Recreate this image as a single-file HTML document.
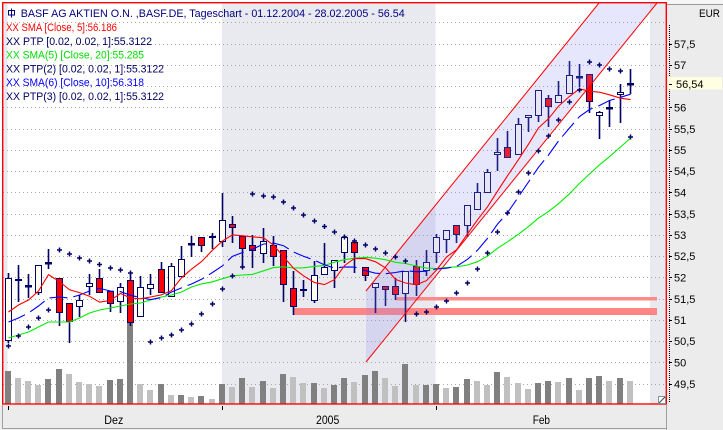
<!DOCTYPE html>
<html><head><meta charset="utf-8"><style>
html,body{margin:0;padding:0;background:#fff;width:723px;height:430px;overflow:hidden}
svg{display:block}
</style></head><body>
<svg width="723" height="430" viewBox="0 0 723 430" xmlns="http://www.w3.org/2000/svg" font-family="'Liberation Sans', Arial, sans-serif">
<defs><clipPath id="pc"><rect x="3" y="3" width="663" height="401"/></clipPath></defs>
<rect width="723" height="430" fill="#fff"/>
<!-- right panel -->
<rect x="667" y="0" width="56" height="430" fill="#ececec"/>
<rect x="667" y="0" width="56" height="4" fill="#f6f6f6"/>
<line x1="667" y1="4.5" x2="723" y2="4.5" stroke="#9a9a9a"/>
<text x="699" y="17" font-size="11" fill="#000" textLength="21" lengthAdjust="spacingAndGlyphs">EUR</text>
<!-- bottom panel -->
<rect x="0" y="405" width="667" height="25" fill="#ececec"/>
<line x1="2.5" y1="405" x2="2.5" y2="428" stroke="#a0a0a0"/>
<line x1="2" y1="428.5" x2="666" y2="428.5" stroke="#a0a0a0"/>
<line x1="666.5" y1="405" x2="666.5" y2="430" stroke="#a0a0a0"/>
<path d="M8.5 406v4M222.5 406v4M436.5 406v4" stroke="#000" stroke-width="1"/>
<text x="104.3" y="424" font-size="11.5" fill="#000" textLength="19" lengthAdjust="spacingAndGlyphs">Dez</text>
<text x="316" y="424" font-size="11.5" fill="#000" textLength="23.3" lengthAdjust="spacingAndGlyphs">2005</text>
<text x="532.7" y="424" font-size="11.5" fill="#000" textLength="17.3" lengthAdjust="spacingAndGlyphs">Feb</text>

<!-- plot background -->
<rect x="3" y="3" width="663" height="401" fill="#fff"/>
<rect x="3" y="3" width="4.5" height="401" fill="#e9e9f0"/>
<rect x="222" y="3" width="213.5" height="401" fill="#e9e9f0"/>
<rect x="650" y="3" width="16" height="401" fill="#e9e9f0"/>
<path d="M3 22.5H666M3 44.5H666M3 65.5H666M3 86.5H666M3 107.5H666M3 129.5H666M3 150.5H666M3 171.5H666M3 192.5H666M3 214.5H666M3 235.5H666M3 256.5H666M3 277.5H666M3 299.5H666M3 320.5H666M3 341.5H666M3 362.5H666M3 384.5H666" stroke="#a8a8a8" stroke-width="1" stroke-dasharray="1 3"/>

<!-- volume -->
<g fill="#808080">
<rect x="5" y="371" width="6" height="33"/><rect x="45" y="379" width="6" height="25"/><rect x="56" y="369" width="6" height="35"/><rect x="107" y="380" width="6" height="24"/><rect x="117" y="379" width="6" height="25"/><rect x="127" y="323" width="6" height="81"/><rect x="158" y="384" width="6" height="20"/><rect x="178" y="395" width="6" height="9"/><rect x="198" y="396" width="6" height="8"/><rect x="219" y="384" width="6" height="20"/><rect x="239" y="378" width="6" height="26"/><rect x="260" y="381" width="6" height="23"/><rect x="280" y="374" width="6" height="30"/><rect x="311" y="383" width="6" height="21"/><rect x="331" y="385" width="6" height="19"/><rect x="341" y="378" width="6" height="26"/><rect x="362" y="375" width="6" height="29"/><rect x="372" y="371" width="6" height="33"/><rect x="402" y="364" width="6" height="40"/><rect x="423" y="385" width="6" height="19"/><rect x="433" y="384" width="6" height="20"/><rect x="453" y="387" width="6" height="17"/><rect x="464" y="379" width="6" height="25"/><rect x="494" y="372" width="6" height="32"/><rect x="535" y="383" width="6" height="21"/><rect x="545" y="381" width="6" height="23"/><rect x="566" y="378" width="6" height="26"/><rect x="586" y="378" width="6" height="26"/><rect x="596" y="376" width="6" height="28"/><rect x="617" y="378" width="6" height="26"/>
</g>
<g fill="#c0c0c0">
<rect x="15" y="378" width="6" height="26"/><rect x="25" y="381" width="6" height="23"/><rect x="35" y="385" width="6" height="19"/><rect x="66" y="374" width="6" height="30"/><rect x="76" y="382" width="6" height="22"/><rect x="86" y="384" width="6" height="20"/><rect x="96" y="386" width="6" height="18"/><rect x="137" y="384" width="6" height="20"/><rect x="147" y="390" width="6" height="14"/><rect x="168" y="395" width="6" height="9"/><rect x="188" y="397" width="6" height="7"/><rect x="209" y="399" width="6" height="5"/><rect x="229" y="387" width="6" height="17"/><rect x="249" y="387" width="6" height="17"/><rect x="270" y="388" width="6" height="16"/><rect x="290" y="377" width="6" height="27"/><rect x="300" y="383" width="6" height="21"/><rect x="321" y="388" width="6" height="16"/><rect x="351" y="382" width="6" height="22"/><rect x="382" y="378" width="6" height="26"/><rect x="392" y="386" width="6" height="18"/><rect x="413" y="385" width="6" height="19"/><rect x="443" y="388" width="6" height="16"/><rect x="474" y="381" width="6" height="23"/><rect x="484" y="385" width="6" height="19"/><rect x="504" y="377" width="6" height="27"/><rect x="515" y="383" width="6" height="21"/><rect x="525" y="389" width="6" height="15"/><rect x="555" y="382" width="6" height="22"/><rect x="576" y="390" width="6" height="14"/><rect x="606" y="381" width="6" height="23"/><rect x="627" y="381" width="6" height="23"/>
</g>

<!-- support bands -->
<rect x="293" y="308" width="364" height="7" fill="#ff8484"/>
<rect x="396" y="297" width="261" height="3.5" fill="#ff8a8a"/>

<!-- wicks -->
<path stroke="#000066" stroke-width="1.6" fill="none" d="M8.5 273V343M18.5 265V302M28.5 274V298M38.5 265V295M48.5 249V269M59.5 278V326M69.5 303V343M79.5 295V317M89.5 274V295M99.5 269V293M110.5 291V312M120.5 283V313M130.5 273V326M140.5 276V317M150.5 274V295M161.5 262V293M171.5 263V297M181.5 246V277M191.5 236V257M201.5 237V252M212.5 233V249M222.5 193V247M232.5 216V243M242.5 236V268M252.5 235V268M263.5 228V263M273.5 236V266M283.5 250V302M293.5 271V315M303.5 280V297M314.5 261V303M324.5 243V275M334.5 260V288M344.5 236V263M354.5 240V273M365.5 267V281M375.5 283V313M385.5 286V306M395.5 278V300M405.5 271V322M416.5 260V296M426.5 250V276M436.5 234V263M446.5 230V253M456.5 225V243M467.5 205V237M477.5 183V210M487.5 169V193M497.5 138V171M507.5 131V158M518.5 118V155M528.5 115V132M538.5 90V122M548.5 95V127M558.5 81V103M569.5 61V94M579.5 64V87M589.5 74V113M599.5 111V139M609.5 100V127M620.5 84V123M630.5 69V94"/>

<!-- up bodies -->
<g fill="#fffff0" stroke="#000066" stroke-width="1">
<rect x="5.5" y="278.5" width="6" height="62"/><rect x="35.5" y="265.5" width="6" height="27"/><rect x="76.5" y="300.5" width="6" height="6"/><rect x="86.5" y="283.5" width="6" height="3"/><rect x="117.5" y="287.5" width="6" height="14"/><rect x="137.5" y="287.5" width="6" height="29"/><rect x="147.5" y="284.5" width="6" height="4"/><rect x="168.5" y="266.5" width="6" height="30"/><rect x="178.5" y="259.5" width="6" height="17"/><rect x="209.5" y="236.5" width="6" height="1"/><rect x="219.5" y="220.5" width="6" height="21"/><rect x="260.5" y="241.5" width="6" height="12"/><rect x="300.5" y="289.5" width="6" height="1"/><rect x="311.5" y="275.5" width="6" height="25"/><rect x="321.5" y="267.5" width="6" height="7"/><rect x="331.5" y="260.5" width="6" height="10"/><rect x="341.5" y="237.5" width="6" height="15"/><rect x="372.5" y="283.5" width="6" height="4"/><rect x="402.5" y="271.5" width="6" height="22"/><rect x="423.5" y="262.5" width="6" height="8"/><rect x="433.5" y="237.5" width="6" height="15"/><rect x="443.5" y="230.5" width="6" height="9"/><rect x="464.5" y="205.5" width="6" height="20"/><rect x="474.5" y="192.5" width="6" height="17"/><rect x="484.5" y="172.5" width="6" height="20"/><rect x="494.5" y="152.5" width="6" height="2"/><rect x="515.5" y="124.5" width="6" height="30"/><rect x="525.5" y="115.5" width="6" height="2"/><rect x="535.5" y="90.5" width="6" height="25"/><rect x="555.5" y="95.5" width="6" height="7"/><rect x="566.5" y="75.5" width="6" height="18"/><rect x="596.5" y="112.5" width="6" height="3"/><rect x="617.5" y="92.5" width="6" height="2"/>
</g>
<!-- down bodies -->
<g fill="#ff0000" stroke="#000066" stroke-width="1">
<rect x="15.5" y="279.5" width="6" height="1"/><rect x="56.5" y="278.5" width="6" height="34"/><rect x="66.5" y="303.5" width="6" height="18"/><rect x="96.5" y="278.5" width="6" height="14"/><rect x="107.5" y="291.5" width="6" height="12"/><rect x="127.5" y="280.5" width="6" height="42"/><rect x="158.5" y="269.5" width="6" height="23"/><rect x="198.5" y="237.5" width="6" height="8"/><rect x="229.5" y="224.5" width="6" height="3"/><rect x="239.5" y="236.5" width="6" height="12"/><rect x="249.5" y="245.5" width="6" height="5"/><rect x="270.5" y="245.5" width="6" height="11"/><rect x="280.5" y="250.5" width="6" height="34"/><rect x="290.5" y="288.5" width="6" height="18"/><rect x="351.5" y="242.5" width="6" height="10"/><rect x="362.5" y="267.5" width="6" height="8"/><rect x="382.5" y="286.5" width="6" height="3"/><rect x="392.5" y="286.5" width="6" height="8"/><rect x="413.5" y="266.5" width="6" height="18"/><rect x="453.5" y="225.5" width="6" height="9"/><rect x="504.5" y="147.5" width="6" height="10"/><rect x="545.5" y="98.5" width="6" height="8"/><rect x="586.5" y="74.5" width="6" height="27"/>
</g>
<!-- doji -->
<g fill="#000066">
<rect x="25" y="285" width="7" height="2.5"/><rect x="45" y="262" width="7" height="2.5"/><rect x="188" y="243" width="7" height="2.5"/><rect x="576" y="76" width="7" height="2.5"/><rect x="606" y="107" width="7" height="2.5"/><rect x="627" y="83" width="7" height="2.5"/>
</g>

<g clip-path="url(#pc)">
<!-- channel -->
<polygon points="366,291 599,3 657,3 366,362" fill="rgba(140,140,240,0.22)"/>
<path d="M366 291L599 3M366 362L657 3" stroke="#ff0000" stroke-width="1" fill="none"/>

<!-- SMA20 green -->
<polyline fill="none" stroke="#00ee00" stroke-width="1.1" points="8.5,338 18.5,335 28.5,332 38.5,327 48.5,322 59.5,322 69.5,322 79.5,318 89.5,313 99.5,310 110.5,308 120.5,306 130.5,304 140.5,303 150.5,300 161.5,297 171.5,295 181.5,292 191.5,287 201.5,283.9 212.5,281.8 222.5,278.7 232.5,275.8 242.5,275 252.5,274.4 263.5,270.8 273.5,267.6 283.5,266.8 293.5,268 303.5,267.8 314.5,266.4 324.5,265.4 334.5,262.2 344.5,259.7 354.5,258.2 365.5,257.3 375.5,258.2 385.5,259.7 395.5,262.3 405.5,263.5 416.5,266 426.5,268.1 436.5,268.5 446.5,267.6 456.5,266.8 467.5,265 477.5,261.7 487.5,256.1 497.5,248.3 507.5,241.8 518.5,234.2 528.5,226.6 538.5,218.1 548.5,211.6 558.5,203.7 569.5,193.7 579.5,183.4 589.5,174 599.5,164.8 609.5,156.7 620.5,147 630.5,138.1"/>
<!-- SMA10 blue -->
<polyline fill="none" stroke="#0000ff" stroke-width="1.1" stroke-dasharray="18 6" points="8.5,322 18.5,318 28.5,313 38.5,306 48.5,298 59.5,297 69.5,298 79.5,295 89.5,291 99.5,288.4 110.5,291 120.5,291.6 130.5,295.3 140.5,297.5 150.5,299.6 161.5,297.6 171.5,292 181.5,287.9 191.5,284 201.5,279.3 212.5,272.5 222.5,265.8 232.5,256.3 242.5,252.5 252.5,249.2 263.5,244 273.5,243.1 283.5,245.7 293.5,252 303.5,256.3 314.5,260.2 324.5,264.9 334.5,268.1 344.5,266.9 354.5,267.1 365.5,270.6 375.5,273.2 385.5,273.7 395.5,272.5 405.5,270.7 416.5,271.7 426.5,271.2 436.5,268.9 446.5,268.2 456.5,266.4 467.5,259.3 477.5,250.2 487.5,238.4 497.5,224.1 507.5,212.8 518.5,196.7 528.5,182 538.5,167.3 548.5,155 558.5,141 569.5,128 579.5,116.5 589.5,109.5 599.5,105.5 609.5,100.5 620.5,97.3 630.5,94.2"/>
<!-- SMA5 red -->
<polyline fill="none" stroke="#ff0000" stroke-width="1.1" points="8.5,312 18.5,305 28.5,300 38.5,291 48.5,274.6 59.5,281.6 69.5,289.8 79.5,292.6 89.5,296.2 99.5,302.2 110.5,300.4 120.5,293.4 130.5,298 140.5,298.8 150.5,297 161.5,294.8 171.5,290.6 181.5,277.8 191.5,269.2 201.5,261.6 212.5,250.2 222.5,241 232.5,234.8 242.5,235.8 252.5,236.8 263.5,237.8 273.5,245.2 283.5,256.6 293.5,268.2 303.5,275.8 314.5,282.6 324.5,284.6 334.5,279.6 344.5,265.6 354.5,258.4 365.5,258.6 375.5,261.8 385.5,267.8 395.5,279.4 405.5,283 416.5,284.8 426.5,280.6 436.5,270 446.5,257 456.5,249.8 467.5,233.8 477.5,219.8 487.5,206.8 497.5,191.2 507.5,175.8 518.5,159.6 528.5,144.2 538.5,127.8 548.5,118.8 558.5,106.2 569.5,96.4 579.5,88.8 589.5,91.2 599.5,92.2 609.5,94.8 620.5,98.2 630.5,99.6"/>

<!-- parabolic SAR -->
<path stroke="#000066" stroke-width="1.5" fill="none" d="M6 346h5M8.5 343.5v5M16 336h5M18.5 333.5v5M26 327h5M28.5 324.5v5M36 318h5M38.5 315.5v5M46 310h5M48.5 307.5v5M57 250h5M59.5 247.5v5M67 254h5M69.5 251.5v5M77 258h5M79.5 255.5v5M87 261h5M89.5 258.5v5M97 264.5h5M99.5 262v5M108 268h5M110.5 265.5v5M118 270h5M120.5 267.5v5M128 273h5M130.5 270.5v5M148 342h5M150.5 339.5v5M159 338h5M161.5 335.5v5M169 335h5M171.5 332.5v5M179 330h5M181.5 327.5v5M189 324h5M191.5 321.5v5M199 314h5M201.5 311.5v5M210 304h5M212.5 301.5v5M220 289h5M222.5 286.5v5M230 276h5M232.5 273.5v5M240 267h5M242.5 264.5v5M250 194h5M252.5 191.5v5M261 196h5M263.5 193.5v5M271 197h5M273.5 194.5v5M281 202h5M283.5 199.5v5M291 208h5M293.5 205.5v5M301 215h5M303.5 212.5v5M312 221h5M314.5 218.5v5M322 226.5h5M324.5 224v5M332 232h5M334.5 229.5v5M342 237h5M344.5 234.5v5M352 241h5M354.5 238.5v5M363 245h5M365.5 242.5v5M373 249h5M375.5 246.5v5M383 253h5M385.5 250.5v5M393 257h5M395.5 254.5v5M403 261h5M405.5 258.5v5M414 314h5M416.5 311.5v5M424 312h5M426.5 309.5v5M434 307h5M436.5 304.5v5M444 301h5M446.5 298.5v5M454 293h5M456.5 290.5v5M465 283h5M467.5 280.5v5M475 269h5M477.5 266.5v5M485 253h5M487.5 250.5v5M495 232h5M497.5 229.5v5M505 213h5M507.5 210.5v5M516 192h5M518.5 189.5v5M526 173h5M528.5 170.5v5M536 151h5M538.5 148.5v5M546 136h5M548.5 133.5v5M556 120h5M558.5 117.5v5M567 102h5M569.5 99.5v5M577 90h5M579.5 87.5v5M587 62h5M589.5 59.5v5M597 65h5M599.5 62.5v5M607 69h5M609.5 66.5v5M618 71h5M620.5 68.5v5M628 137h5M630.5 134.5v5"/>
</g>

<!-- legend -->
<g fill="none" stroke="#000080" stroke-width="1">
<rect x="8.5" y="10.5" width="6" height="4.5"/>
<line x1="11.5" y1="8.5" x2="11.5" y2="17.5"/>
</g>
<text x="20.7" y="16.8" font-size="11" fill="#000080" textLength="384" lengthAdjust="spacingAndGlyphs">BASF AG AKTIEN O.N. ,BASF.DE, Tageschart - 01.12.2004 - 28.02.2005 - 56.54</text>
<text x="6" y="31" font-size="11" fill="#ff0000" textLength="111" lengthAdjust="spacingAndGlyphs">XX SMA [Close, 5]:56.186</text>
<text x="6" y="44.8" font-size="11" fill="#000060" textLength="146" lengthAdjust="spacingAndGlyphs">XX PTP [0.02, 0.02, 1]:55.3122</text>
<text x="6" y="58.6" font-size="11" fill="#00dd00" textLength="138" lengthAdjust="spacingAndGlyphs">XX SMA(5) [Close, 20]:55.285</text>
<text x="6" y="72.4" font-size="11" fill="#000060" textLength="158" lengthAdjust="spacingAndGlyphs">XX PTP(2) [0.02, 0.02, 1]:55.3122</text>
<text x="6" y="86.2" font-size="11" fill="#0000ff" textLength="138" lengthAdjust="spacingAndGlyphs">XX SMA(6) [Close, 10]:56.318</text>
<text x="6" y="100" font-size="11" fill="#000060" textLength="158" lengthAdjust="spacingAndGlyphs">XX PTP(3) [0.02, 0.02, 1]:55.3122</text>

<!-- border -->
<rect x="2.7" y="2.7" width="663.6" height="401.3" fill="none" stroke="#ff0000" stroke-width="1.4"/>
<!-- resize glyph -->
<rect x="658.5" y="396.5" width="7" height="7" fill="#fff" stroke="#909090" stroke-width="1"/>
<line x1="659" y1="403" x2="665" y2="397" stroke="#404040" stroke-width="1"/>

<!-- right axis -->
<line x1="669.5" y1="25" x2="669.5" y2="403" stroke="#000" stroke-width="1" stroke-dasharray="1 1"/>
<path stroke="#000" stroke-width="1" d="M669 44.5h3M669 65.5h3M669 107.5h3M669 129.5h3M669 150.5h3M669 171.5h3M669 192.5h3M669 214.5h3M669 235.5h3M669 256.5h3M669 277.5h3M669 299.5h3M669 320.5h3M669 341.5h3M669 362.5h3M669 384.5h3"/>
<g font-size="11" fill="#000">
<text x="674" y="48">57,5</text>
<text x="674" y="69">57</text>
<text x="674" y="111.5">56</text>
<text x="674" y="133">55,5</text>
<text x="674" y="154">55</text>
<text x="674" y="175">54,5</text>
<text x="674" y="196.5">54</text>
<text x="674" y="218">53,5</text>
<text x="674" y="239">53</text>
<text x="674" y="260">52,5</text>
<text x="674" y="281.5">52</text>
<text x="674" y="303">51,5</text>
<text x="674" y="324">51</text>
<text x="674" y="345">50,5</text>
<text x="674" y="366.5">50</text>
<text x="674" y="388">49,5</text>
</g>
<rect x="668" y="77" width="54" height="12.5" fill="#ffffe1"/>
<line x1="669" y1="84.5" x2="672" y2="84.5" stroke="#000"/>
<text x="676" y="88" font-size="11" fill="#000">56,54</text>
</svg>
</body></html>
